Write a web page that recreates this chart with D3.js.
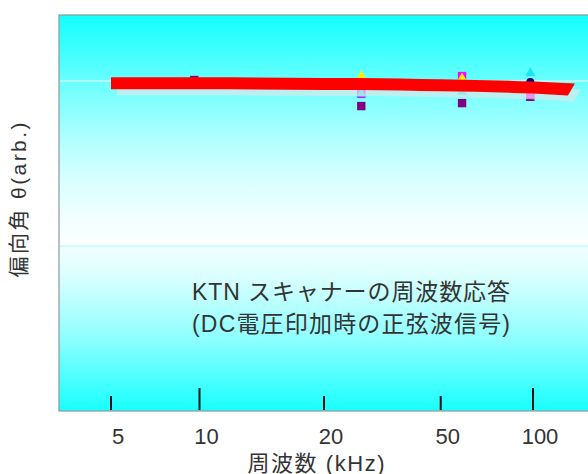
<!DOCTYPE html>
<html><head><meta charset="utf-8">
<script src="https://cdn.jsdelivr.net/npm/d3@7"></script>
<style>html,body{margin:0;padding:0;background:#fff;}svg{display:block;}</style>
</head><body>
<svg id="c" width="588" height="474"></svg>
<script>
// ---- data ----
const tickFreqs = [5, 10, 20, 50, 100];
const tickLabels = ["5", "10", "20", "50", "100"];
const tickMajor = [false, true, false, false, true];
const gridTheta = [0.5, 1.0];

// response band (red)
const responseFreq = [5, 10, 20, 26.8, 50, 100, 137];
const responseTheta = [0.993, 0.993, 0.991, 0.991, 0.987, 0.980, 0.974];

// measured points
const purpleFreq = [9.6, 26.8, 58.7, 98];
const purpleTheta = [1.003, 0.924, 0.933, 0.952];
const magentaFreq = [26.8, 58.7, 98];
const magentaTheta = [0.961, 1.015, 0.961];
const yellowFreq = [26.8, 58.7];
const yellowTheta = [1.015, 1.009];
const cyanFreq = [26.8, 58.7, 98];
const cyanTheta = [0.961, 0.967, 1.024];
const navyFreq = [98];
const navyTheta = [0.997];

const annotation = ["KTN スキャナーの周波数応答", "(DC電圧印加時の正弦波信号)"];
const xTitle = "周波数 (kHz)";
const yTitle = "偏向角 θ(arb.)";

// ---- layout ----
const svg = d3.select("#c");
const plot = {left: 59, top: 15, right: 600, bottom: 411};

const x = d3.scaleLog()
  .domain(tickFreqs)
  .range([111, 199.5, 324, 440.7, 533]);
const y = d3.scaleLinear().domain([0, 1.2]).range([plot.bottom, plot.top]);

// background gradient (cyan -> white at 0.5 -> cyan)
const defs = svg.append("defs");
const grad = defs.append("linearGradient").attr("id", "bg")
  .attr("gradientUnits", "userSpaceOnUse")
  .attr("x1", 0).attr("x2", 0).attr("y1", plot.top).attr("y2", plot.bottom);
const off = py => (py - plot.top) / (plot.bottom - plot.top);
const stops = [
  [plot.top, "#14ffff"], [60, "#4cffff"], [100, "#82ffff"], [140, "#b2ffff"],
  [180, "#d8ffff"], [220, "#f2ffff"], [y(0.5), "#fcffff"],
  [y(0.5) + 1.5, "#eefefe"], [270, "#e2ffff"], [300, "#beffff"],
  [340, "#8cffff"], [380, "#4affff"], [plot.bottom, "#18ffff"]
];
stops.forEach(s => grad.append("stop").attr("offset", off(s[0])).attr("stop-color", s[1]));

svg.append("rect")
  .attr("x", plot.left).attr("y", plot.top)
  .attr("width", plot.right - plot.left).attr("height", plot.bottom - plot.top)
  .attr("fill", "url(#bg)").attr("stroke", "#8a9a9a").attr("stroke-width", 1.2);

// gridlines
svg.selectAll(".grid").data(gridTheta).join("line")
  .attr("x1", plot.left + 1).attr("x2", plot.right)
  .attr("y1", d => y(d)).attr("y2", d => y(d))
  .attr("stroke", "#c6fbfb").attr("stroke-width", 1.5);

// ticks
svg.selectAll(".tick").data(tickFreqs).join("line")
  .attr("x1", d => x(d)).attr("x2", d => x(d))
  .attr("y1", plot.bottom - 1)
  .attr("y2", (d, i) => plot.bottom - (tickMajor[i] ? 23 : 15))
  .attr("stroke", "#111").attr("stroke-width", 2);

svg.selectAll(".tlab").data(tickFreqs).join("text")
  .attr("x", d => x(d) + 7).attr("y", 444)
  .attr("text-anchor", "middle")
  .attr("font-family", "'Liberation Sans', Arial, sans-serif")
  .attr("font-size", 22).attr("fill", "#333")
  .text((d, i) => tickLabels[i]);

// markers
const zip = (f, t) => f.map((d, i) => ({f: d, t: t[i]}));
function markers(data, type, size, color) {
  svg.append("g").selectAll("path").data(data).join("path")
    .attr("transform", d => `translate(${x(d.f)},${y(d.t)})`)
    .attr("d", d3.symbol().type(type).size(size))
    .attr("fill", color);
}
markers(zip(purpleFreq, purpleTheta), d3.symbolSquare, 70, "#800080");
markers(zip(magentaFreq, magentaTheta), d3.symbolSquare, 70, "#ff00ff");
markers(zip(cyanFreq, cyanTheta), d3.symbolTriangle, 45, "#18e6f0");
markers(zip(yellowFreq, yellowTheta), d3.symbolTriangle, 40, "#ffee00");
markers(zip(navyFreq, navyTheta), d3.symbolCircle, 50, "#000080");

// response band
const band = zip(responseFreq, responseTheta);
const last = band.length - 1;
const area = d3.area()
  .x1(d => x(d.f))
  .x0((d, i) => x(d.f) - (i === last ? 7 : 0))
  .y0(d => y(d.t) + 6)
  .y1(d => y(d.t) - 6)
  .curve(d3.curveMonotoneX);

svg.append("path").datum(band).attr("d", area)
  .attr("transform", "translate(6,6)")
  .attr("fill", "rgb(222,230,232)").attr("fill-opacity", 0.65);
svg.append("path").datum(band).attr("d", area).attr("fill", "#ff0000");

// annotation
const ann = svg.append("text")
  .attr("font-family", "'Liberation Sans', 'Noto Sans CJK JP', sans-serif")
  .attr("font-size", 23).attr("fill", "#333").attr("text-anchor", "middle");
ann.selectAll("tspan").data(annotation).join("tspan")
  .attr("x", 351).attr("y", (d, i) => 300 + i * 32)
  .attr("textLength", 318).attr("lengthAdjust", "spacing")
  .text(d => d);

// axis titles
svg.append("text")
  .attr("x", 316).attr("y", 471).attr("text-anchor", "middle")
  .attr("font-family", "'Liberation Sans', 'Noto Sans CJK JP', sans-serif")
  .attr("font-size", 22).attr("fill", "#333")
  .attr("textLength", 137).attr("lengthAdjust", "spacing")
  .text(xTitle);

svg.append("text")
  .attr("transform", "translate(26,200) rotate(-90)")
  .attr("text-anchor", "middle")
  .attr("font-family", "'Liberation Sans', 'Noto Sans CJK JP', sans-serif")
  .attr("font-size", 21).attr("fill", "#333")
  .attr("textLength", 155).attr("lengthAdjust", "spacing")
  .text(yTitle);
</script>
</body></html>
